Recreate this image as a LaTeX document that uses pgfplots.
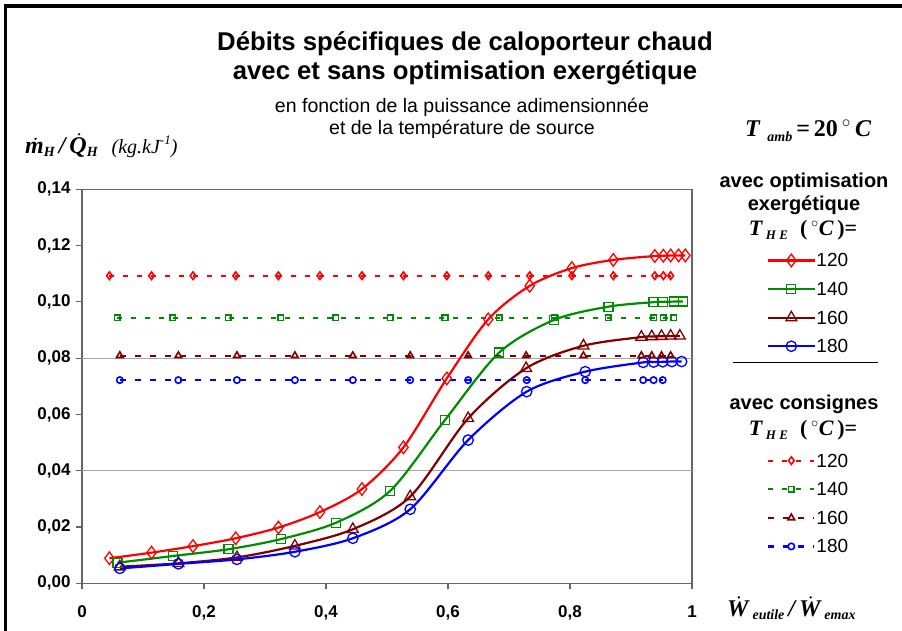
\documentclass[border=0pt]{standalone}
\usepackage{fontspec}
\setmainfont{Liberation Sans}
\newfontfamily\tms{Liberation Serif}
\usepackage{pgfplots}
\pgfplotsset{compat=1.18}
\definecolor{cred}{RGB}{255,0,0}
\definecolor{cgreen}{RGB}{0,140,0}
\definecolor{cbrown}{RGB}{128,0,0}
\definecolor{cblue}{RGB}{0,0,255}
\newcommand{\fs}[1]{\fontsize{#1bp}{#1bp}\selectfont}
\newcommand{\dotover}[2][0bp]{{\setbox0\hbox{#2}\rlap{\hbox to\wd0{\hss\kern#1\raisebox{\dimexpr\ht0+1.6bp\relax}{\tikz\fill (0,0) circle (1.3bp);}\hss}}\box0}}
\newcommand{\THE}{{\tms\bfseries\itshape T}\,\raisebox{-0.35ex}{\tms\bfseries\itshape\fs{13}H E}\ \ {\tms\bfseries(\,$^{\circ}$\textit{C}\,)=}}
\begin{document}
\begin{tikzpicture}
\useasboundingbox (0,0) rectangle (902bp,-631bp);
\draw[line width=3.5bp] (5.5bp,-700bp) -- (5.5bp,-6bp) -- (1000bp,-6bp);
\begin{axis}[
  at={(82bp,-583.3bp)}, anchor=south west,
  scale only axis, width=610bp, height=394bp,
  xmin=0, xmax=1, ymin=0, ymax=0.14,
  xtick={0,0.2,0.4,0.6,0.8,1},
  ytick={0,0.02,0.04,0.06,0.08,0.1,0.12,0.14},
  tick align=outside, tick pos=left,
  major tick length=6bp,
  axis line style={draw=gray!80!black, line width=1.4bp},
  tick style={draw=gray!80!black, line width=1.2bp},
  extra y ticks={0.04,0.08},
  extra y tick labels={},
  extra y tick style={grid=major, major grid style={gray!70, line width=1bp}, major tick length=0pt},
  /pgf/number format/assume math mode=true,
  yticklabel style={font=\bfseries\fs{17}, xshift=-2bp, /pgf/number format/.cd, use comma, fixed, fixed zerofill, precision=2},
  xticklabel style={font=\bfseries\fs{17}, yshift=-13bp, /pgf/number format/.cd, use comma, fixed, precision=1},
  legend image code/.code={\draw[mark repeat=2,mark phase=2,#1] plot coordinates {(0bp,0bp) (23bp,0bp) (46bp,0bp)};},
  legend style={draw=none, fill=none, inner sep=0pt, row sep=15.6bp, column sep=1bp,
    at={(1.123,0.8365)}, anchor=north west, font=\fs{19},
    nodes={text height=13bp, text depth=0bp, inner sep=0bp}},
  legend cell align=left,
  clip=false,
]
% optimised
\addplot[cred, line width=2.2bp, smooth, mark=diamond, mark size=6.3bp, mark options={line width=1.3bp, solid}] coordinates {
(0.045,0.0089)(0.114,0.0109)(0.182,0.0132)(0.252,0.0160)(0.322,0.0198)(0.390,0.0253)(0.459,0.0335)(0.527,0.0483)(0.598,0.0728)(0.666,0.0938)(0.734,0.1057)(0.803,0.1120)(0.871,0.1149)(0.939,0.1163)(0.953,0.1164)(0.965,0.1165)(0.978,0.1165)(0.989,0.1165)};
\addlegendentry{120}
\addplot[cgreen, line width=2.2bp, smooth, mark=square, mark size=4.5bp, mark options={line width=1.3bp, solid}] coordinates {
(0.058,0.0073)(0.149,0.0097)(0.240,0.0121)(0.326,0.0157)(0.416,0.0215)(0.505,0.0328)(0.595,0.0580)(0.684,0.0820)(0.774,0.0936)(0.863,0.0983)(0.937,0.0999)(0.953,0.1000)(0.970,0.1001)(0.985,0.1001)};
\addlegendentry{140}
\addplot[cbrown, line width=2.2bp, smooth, mark=triangle, mark size=6.3bp, mark options={line width=1.3bp, solid}] coordinates {
(0.062,0.0059)(0.158,0.0071)(0.254,0.0092)(0.349,0.0133)(0.444,0.0192)(0.538,0.0308)(0.633,0.0586)(0.728,0.0764)(0.822,0.0844)(0.917,0.0875)(0.934,0.0877)(0.950,0.0878)(0.965,0.0879)(0.980,0.0879)};
\addlegendentry{160}
\addplot[cblue, line width=2.2bp, smooth, mark=o, mark size=5.2bp, mark options={line width=1.3bp, solid}] coordinates {
(0.062,0.0053)(0.158,0.0069)(0.254,0.0085)(0.349,0.0112)(0.444,0.0160)(0.538,0.0263)(0.633,0.0509)(0.729,0.0681)(0.825,0.0752)(0.920,0.0785)(0.937,0.0786)(0.952,0.0787)(0.967,0.0788)(0.983,0.0788)};
\addlegendentry{180}
\addlegendimage{empty legend}\addlegendentry{}
\addlegendimage{empty legend}\addlegendentry{}
\addlegendimage{empty legend}\addlegendentry{}
% consignes
\addplot[cred, line width=2.2bp, dash pattern=on 5bp off 9bp, mark=diamond, mark size=3.8bp, mark options={line width=1.6bp, solid}] coordinates {
(0.045,0.1093)(0.114,0.1093)(0.182,0.1093)(0.252,0.1093)(0.322,0.1093)(0.390,0.1093)(0.459,0.1093)(0.527,0.1093)(0.598,0.1093)(0.666,0.1093)(0.734,0.1093)(0.803,0.1093)(0.871,0.1093)(0.939,0.1093)(0.953,0.1093)(0.965,0.1093)};
\addlegendentry{120}
\addplot[cgreen, line width=1.8bp, dash pattern=on 5bp off 9bp, mark=square, mark size=2.8bp, mark options={line width=1.5bp, solid}] coordinates {
(0.058,0.0944)(0.149,0.0944)(0.240,0.0944)(0.326,0.0944)(0.416,0.0944)(0.505,0.0944)(0.595,0.0944)(0.684,0.0944)(0.774,0.0944)(0.863,0.0944)(0.937,0.0944)(0.953,0.0944)(0.970,0.0944)};
\addlegendentry{140}
\addplot[cbrown, line width=2.2bp, dash pattern=on 6bp off 9bp, mark=triangle, mark size=3.8bp, mark options={line width=1.6bp, solid}] coordinates {
(0.062,0.0809)(0.158,0.0809)(0.254,0.0809)(0.349,0.0809)(0.444,0.0809)(0.538,0.0809)(0.633,0.0809)(0.728,0.0809)(0.822,0.0809)(0.917,0.0809)(0.934,0.0809)(0.950,0.0809)(0.965,0.0809)};
\addlegendentry{160}
\addplot[cblue, line width=2.2bp, dash pattern=on 6bp off 9bp, mark=o, mark size=3.2bp, mark options={line width=1.6bp, solid}] coordinates {
(0.062,0.0722)(0.158,0.0722)(0.254,0.0722)(0.349,0.0722)(0.444,0.0722)(0.538,0.0722)(0.633,0.0722)(0.729,0.0722)(0.825,0.0722)(0.920,0.0722)(0.937,0.0722)(0.952,0.0722)};
\addlegendentry{180}
\end{axis}
% titles
\node[anchor=base, font=\bfseries\fs{25.7}] at (465bp,-50.7bp) {Débits spécifiques de caloporteur chaud};
\node[anchor=base, font=\bfseries\fs{25.7}] at (465bp,-79.3bp) {avec et sans optimisation exergétique};
\node[anchor=base, font=\fs{19.5}] at (462bp,-112.7bp) {en fonction de la puissance adimensionnée};
\node[anchor=base, font=\fs{19.5}] at (462bp,-134.3bp) {et de la température de source};
% y label
\node[anchor=base west, inner sep=0pt] at (25bp,-153bp) {\fs{24}\tms\bfseries\itshape \dotover[2bp]{m}\raisebox{-0.35ex}{\fs{14}H}\,/\,\dotover[2bp]{Q}\raisebox{-0.35ex}{\fs{14}H}\hspace{14bp}{\mdseries\fs{20}(kg.kJ\raisebox{0.9ex}{\fs{13}-1})}};
% T amb
\node[anchor=base west, inner sep=0pt] at (745bp,-136.7bp) {\fs{24}{\tms\bfseries\itshape T}\,\raisebox{-0.35ex}{\tms\bfseries\itshape\fs{14} amb}{\tms\bfseries\,=\,20\,$^{\circ}$\,\textit{C}}};
% legend headers
\node[anchor=base, font=\bfseries\fs{20}] at (804bp,-187.3bp) {avec optimisation};
\node[anchor=base, font=\bfseries\fs{20}] at (804bp,-210bp) {exergétique};
\node[anchor=base] at (803bp,-235bp) {\fs{22}\THE};
\draw[line width=0.9bp] (733bp,-362.3bp) -- (878bp,-362.3bp);
\node[anchor=base, font=\bfseries\fs{20}] at (804bp,-409.3bp) {avec consignes};
\node[anchor=base] at (803bp,-435bp) {\fs{22}\THE};
% x label
\node[anchor=base west, inner sep=0pt] at (727bp,-616bp) {\fs{24}\tms\bfseries\itshape \dotover[2bp]{W}\,\raisebox{-0.35ex}{\fs{14}eutile}\,/\,\dotover[2bp]{W}\,\raisebox{-0.35ex}{\fs{14}emax}};
\end{tikzpicture}
\end{document}
